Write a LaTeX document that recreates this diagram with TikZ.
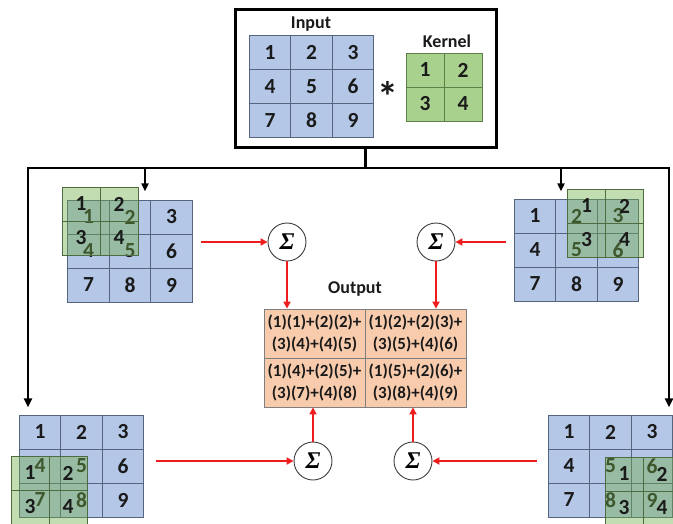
\documentclass[tikz,border=0pt]{standalone}
\usepackage{fontspec}
\setmainfont{Carlito}
\newfontfamily\sigmafont{Liberation Serif}
\usetikzlibrary{matrix,arrows.meta}
\definecolor{bluefill}{HTML}{B4C7E7}
\definecolor{bluebd}{HTML}{56657E}
\definecolor{kfill}{HTML}{A9D18E}
\definecolor{kbd}{HTML}{5E7F48}
\definecolor{ovfill}{HTML}{70AD47}
\definecolor{ovbd}{HTML}{4F6B40}
\definecolor{outfill}{HTML}{F8CBAD}
\definecolor{outbd}{HTML}{7F7F7F}
\definecolor{flowred}{HTML}{EE1C1C}
\definecolor{ink}{HTML}{1A1A1A}

\begin{document}
\begin{tikzpicture}[x=1pt,y=-1pt,
  digitfont/.style={font=\fontsize{21.5}{21.5}\selectfont\bfseries},
  cellgrid/.style={matrix of nodes, inner sep=0pt, column sep=-0.8pt, row sep=-0.8pt},
  bluegrid/.style={cellgrid, nodes={draw=bluebd, line width=0.8pt, fill=bluefill,
      minimum width=41.5pt, minimum height=34pt, inner sep=0pt, anchor=center,
      text=ink, digitfont}},
  kernelgrid/.style={cellgrid, nodes={draw=kbd, line width=0.8pt, fill=kfill,
      minimum width=38pt, minimum height=34pt, inner sep=0pt, anchor=center,
      text=ink, digitfont}},
  overlaygrid/.style={cellgrid, fill=ovfill, fill opacity=0.42, text opacity=1,
      nodes={draw=ovbd, line width=0.8pt, minimum width=38pt, minimum height=34pt,
      inner sep=0pt, anchor=center, text=ink, digitfont}},
  outcell/.style={draw=outbd, line width=0.8pt, fill=outfill,
      minimum width=101pt, minimum height=49pt, inner sep=0pt,
      align=center, text=ink, font=\fontsize{17}{22}\selectfont\bfseries},
  caption/.style={font=\fontsize{18}{18}\selectfont\bfseries, text=ink},
  sumnode/.style={circle, draw=ink!85, line width=0.9pt, fill=white,
      minimum size=38pt, inner sep=0pt,
      font=\sigmafont\fontsize{24}{24}\selectfont\bfseries\itshape},
  bus/.style={draw=black, line width=2.6pt},
  drop/.style={draw=black, line width=1.8pt, -{Triangle[length=8pt,width=7pt]}},
  redarr/.style={draw=flowred, line width=2.2pt, -{Triangle[length=7pt,width=7pt]}}
]
\useasboundingbox (0,0) rectangle (673,523);
\clip (0,0) rectangle (673,523);

% input / kernel frame
\node[draw=black, line width=3pt, minimum width=261pt, minimum height=138pt,
      inner sep=0pt] (frame) at (365.5,78) {};
\node[caption] (inlabel) at (311,24) {Input};
\node[caption] (klabel) at (447,41) {Kernel};
\matrix (inA) [bluegrid] at (311.5,86.5) {1 & 2 & 3 \\ 4 & 5 & 6 \\ 7 & 8 & 9 \\};
\matrix (kerA) [kernelgrid] at (444,87) {1 & 2 \\ 3 & 4 \\};
\node[font=\fontsize{42}{42}\selectfont\bfseries, text=ink] (star) at (388,96) {*};

% four kernel positions over the input
\matrix (gTL) [bluegrid] at (130,251) {1 & 2 & 3 \\ 4 & 5 & 6 \\ 7 & 8 & 9 \\};
\matrix (kTL) [overlaygrid] at (100,221) {1 & 2 \\ 3 & 4 \\};

\matrix (gTR) [bluegrid] at (576.5,250) {1 & 2 & 3 \\ 4 & 5 & 6 \\ 7 & 8 & 9 \\};
\matrix (kTR) [overlaygrid] at (605.5,223) {1 & 2 \\ 3 & 4 \\};

\matrix (gBL) [bluegrid] at (81.5,466) {1 & 2 & 3 \\ 4 & 5 & 6 \\ 7 & 8 & 9 \\};
\matrix (kBL) [overlaygrid] at (49,490) {1 & 2 \\ 3 & 4 \\};

\matrix (gBR) [bluegrid] at (610.5,466) {1 & 2 & 3 \\ 4 & 5 & 6 \\ 7 & 8 & 9 \\};
\matrix (kBR) [overlaygrid] at (643,491) {1 & 2 \\ 3 & 4 \\};

% output
\node[caption] (outlabel) at (355,289) {Output};
\node[outcell] (o11) at (314.5,333.5) {(1)(1)+(2)(2)+\\(3)(4)+(4)(5)};
\node[outcell] (o12) at (415.5,333.5) {(1)(2)+(2)(3)+\\(3)(5)+(4)(6)};
\node[outcell] (o21) at (314.5,382.5) {(1)(4)+(2)(5)+\\(3)(7)+(4)(8)};
\node[outcell] (o22) at (415.5,382.5) {(1)(5)+(2)(6)+\\(3)(8)+(4)(9)};

% summation nodes
\node[sumnode] (s1) at (287,242) {Σ};
\node[sumnode] (s2) at (436,242) {Σ};
\node[sumnode] (s3) at (313,461) {Σ};
\node[sumnode] (s4) at (413,461) {Σ};

% distribution lines
\coordinate (busL) at (28,168);
\coordinate (busR) at (669,168);
\coordinate (jTL) at (145,168);
\coordinate (jTR) at (561,168);
\draw[bus] (frame.south) -- (frame.south |- busL);
\draw[bus, {Triangle[length=9pt,width=8pt]}-{Triangle[length=9pt,width=8pt]},
      shorten <=7pt, shorten >=7pt]
  (busL |- gBL.north) -- (busL) -- (busR) -- (busR |- gBR.north);
\draw[drop, shorten >=8pt] (jTL) -- (jTL |- gTL.north);
\draw[drop, shorten >=7pt] (jTR) -- (jTR |- gTR.north);

% products into sums, sums into output
\draw[redarr, shorten <=8pt] (gTL.east |- s1) -- (s1);
\draw[redarr, shorten <=8pt] (gTR.west |- s2) -- (s2);
\draw[redarr, shorten <=12pt] (gBL.east |- s3) -- (s3);
\draw[redarr, shorten <=11pt] (gBR.west |- s4) -- (s4);
\draw[redarr] (s1) -- (s1 |- o11.north);
\draw[redarr] (s2) -- (s2 |- o12.north);
\draw[redarr] (s3) -- (s3 |- o21.south);
\draw[redarr] (s4) -- (s4 |- o22.south);
\end{tikzpicture}
\end{document}
